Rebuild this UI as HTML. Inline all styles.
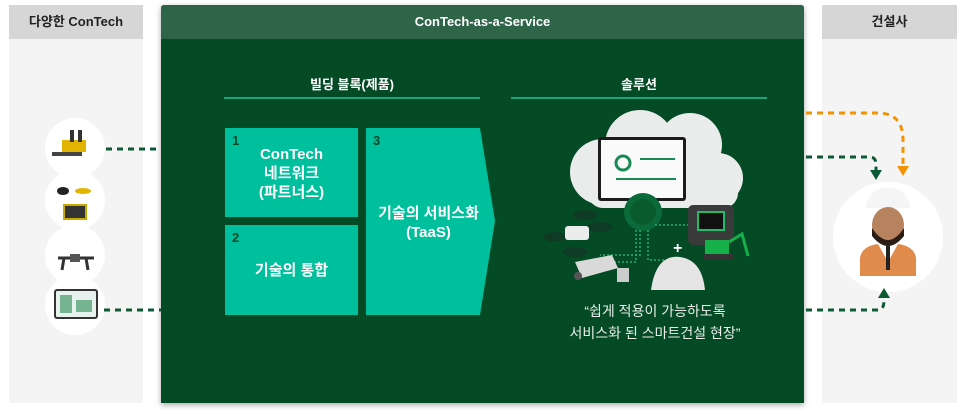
<!DOCTYPE html>
<html><head><meta charset="utf-8"><style>
*{margin:0;padding:0;box-sizing:border-box}
body{width:966px;height:414px;background:#fff;position:relative;overflow:hidden;font-family:"Liberation Sans","Noto Sans CJK KR",sans-serif}
.a{position:absolute}
.panel{background:#f4f4f4}
.ghead{background:#d6d6d6;color:#222;font-weight:bold;font-size:13px;text-align:center;line-height:34px}
.box{background:#00bf9c;color:#fff;font-weight:bold}
.num{position:absolute;left:7px;top:5px;font-size:13px;color:#064a27}
.ctr{position:absolute;left:0;right:0;text-align:center;font-size:15px;line-height:19px}
.circ{background:#fff;border-radius:50%}
</style></head><body>
<div class="a panel" style="left:9px;top:5px;width:134px;height:398px"></div>
<div class="a ghead" style="left:9px;top:5px;width:134px;height:34px">다양한 ConTech</div>
<div class="a panel" style="left:822px;top:5px;width:135px;height:398px"></div>
<div class="a ghead" style="left:822px;top:5px;width:135px;height:34px">건설사</div>

<div class="a" style="left:161px;top:5px;width:643px;height:398px;background:#034a25;box-shadow:0 2px 6px rgba(0,0,0,.35);border-radius:3px 3px 0 0"></div>
<div class="a" style="left:161px;top:5px;width:643px;height:34px;background:#2e6549;color:#fff;font-weight:bold;font-size:13px;text-align:center;line-height:34px;border-radius:3px 3px 0 0">ConTech-as-a-Service</div>

<div class="a" style="left:224px;top:74px;width:256px;text-align:center;color:#fff;font-weight:bold;font-size:13px">빌딩 블록(제품)</div>
<div class="a" style="left:224px;top:97px;width:256px;height:2px;background:#1aa57e"></div>
<div class="a" style="left:511px;top:74px;width:256px;text-align:center;color:#fff;font-weight:bold;font-size:13px">솔루션</div>
<div class="a" style="left:511px;top:97px;width:256px;height:2px;background:#1aa57e"></div>

<div class="a box" style="left:225px;top:128px;width:133px;height:89px"><span class="num">1</span><div class="ctr" style="top:17px">ConTech<br>네트워크<br>(파트너스)</div></div>
<div class="a box" style="left:225px;top:225px;width:133px;height:90px"><span class="num">2</span><div class="ctr" style="top:36px">기술의 통합</div></div>
<svg class="a" style="left:366px;top:128px" width="130" height="187"><polygon points="0,0 114,0 129,93 114,187 0,187" fill="#00bf9c"/></svg>
<div class="a box" style="left:366px;top:128px;width:125px;height:187px;background:none"><span class="num">3</span><div class="ctr" style="top:76px">기술의 서비스화<br>(TaaS)</div></div>

<div class="a circ" style="left:45px;top:118px;width:60px;height:60px"></div>
<div class="a circ" style="left:45px;top:170px;width:60px;height:60px"></div>
<div class="a circ" style="left:45px;top:225px;width:60px;height:60px"></div>
<div class="a circ" style="left:45px;top:275px;width:60px;height:60px"></div>
<div class="a circ" style="left:833px;top:182px;width:110px;height:110px"></div>

<svg class="a" style="left:0;top:0" width="966" height="414">
<rect x="62" y="140" width="24" height="12" fill="#e0b400"/><rect x="70" y="130" width="4" height="12" fill="#333"/><rect x="78" y="130" width="4" height="12" fill="#333"/><rect x="52" y="152" width="30" height="4" fill="#444"/>
<ellipse cx="63" cy="191" rx="6" ry="4" fill="#222"/><ellipse cx="83" cy="191" rx="8" ry="3" fill="#e0b400"/><rect x="64" y="205" width="22" height="14" fill="#333" stroke="#c9a800" stroke-width="2"/>
<g stroke="#333" stroke-width="3" fill="none"><line x1="58" y1="258" x2="94" y2="258"/><line x1="64" y1="258" x2="62" y2="270"/><line x1="86" y1="258" x2="88" y2="270"/></g><rect x="70" y="254" width="10" height="8" fill="#555"/>
<rect x="55" y="290" width="42" height="28" rx="2" fill="#e8f2ec" stroke="#333" stroke-width="2"/><rect x="60" y="295" width="12" height="18" fill="#2a8a55" opacity=".6"/><rect x="76" y="300" width="16" height="12" fill="#2a8a55" opacity=".6"/>
<g stroke="#0b5a34" stroke-width="3" stroke-dasharray="6,5" fill="none">
<line x1="106" y1="149" x2="161" y2="149"/><line x1="104" y1="310" x2="161" y2="310"/>
<path d="M806 157 H870 Q876 157 876 165 V172"/>
<path d="M806 310 H878 Q884 310 884 300 V296"/>
</g>
<polygon points="870,170 882,170 876,180" fill="#0b5a34"/>
<polygon points="878,298 890,298 884,288" fill="#0b5a34"/>
<path d="M806 113 H878 Q903 113 903 140 V166" stroke="#f39200" stroke-width="3" stroke-dasharray="6,5" fill="none"/>
<polygon points="897,166 909,166 903,176" fill="#f39200"/>
<g fill="#e9ecea"><circle cx="603" cy="172" r="33"/><circle cx="640" cy="145" r="35"/><circle cx="690" cy="145" r="32"/><circle cx="718" cy="178" r="25"/><rect x="588" y="168" width="150" height="40" rx="15"/></g>
<rect x="598" y="137" width="88" height="64" rx="3" fill="#1c1c1c"/><rect x="601" y="140" width="82" height="58" fill="#fafafa"/>
<circle cx="623" cy="163" r="7" fill="none" stroke="#1a8a55" stroke-width="3"/><rect x="640" y="158" width="35" height="2" fill="#1a8a55"/><rect x="616" y="178" width="60" height="2" fill="#1a8a55"/>
<circle cx="643" cy="212" r="19" fill="#0b6a3a"/><circle cx="643" cy="212" r="13" fill="#0a5a30"/>
<g stroke="#28b06e" stroke-width="1.5" stroke-dasharray="2,2" fill="none"><path d="M640 230 V255 H600"/><path d="M648 230 V260 H665"/><path d="M636 230 V262 H615"/><path d="M655 225 H690"/></g>
<g fill="#0f3b25"><ellipse cx="555" cy="237" rx="12" ry="5"/><ellipse cx="600" cy="227" rx="12" ry="5"/><ellipse cx="575" cy="252" rx="12" ry="5"/><ellipse cx="585" cy="215" rx="12" ry="5"/></g>
<rect x="565" y="226" width="24" height="14" rx="3" fill="#ececec"/>
<polygon points="575,262 612,255 618,268 582,278" fill="#d9d9d9"/><circle cx="578" cy="276" r="4" fill="#555"/><rect x="617" y="268" width="12" height="14" fill="#ccc"/>
<path d="M651 290 Q656 254 680 257 Q702 260 705 290 Z" fill="#e5e5e5"/><text x="673" y="253" fill="#fff" font-size="16" font-weight="bold">+</text>
<rect x="688" y="205" width="46" height="40" rx="5" fill="#3a3a3a"/><rect x="698" y="212" width="26" height="18" fill="#111" stroke="#1ebc6e" stroke-width="2"/>
<rect x="705" y="240" width="24" height="14" fill="#15b04a"/><rect x="703" y="254" width="30" height="6" fill="#333"/><path d="M729 242 L742 234 L748 256" stroke="#15b04a" stroke-width="3" fill="none"/>
<path d="M866 208 Q868 188 888 188 Q908 188 910 208 Z" fill="#f5f5f5"/><ellipse cx="888" cy="225" rx="16" ry="18" fill="#b7835f"/><path d="M872 228 Q888 252 904 228 V236 Q888 256 872 236Z" fill="#2a1d16"/>
<path d="M860 276 V258 Q862 246 878 244 L888 262 L898 244 Q914 246 916 258 V276Z" fill="#e08a4b"/><rect x="886" y="246" width="4" height="24" fill="#222"/>
</svg>

<div class="a" style="left:530px;top:300px;width:250px;text-align:center;color:#e8efe9;font-size:14px;line-height:22px">“쉽게 적용이 가능하도록<br>서비스화 된 스마트건설 현장”</div>
</body></html>
